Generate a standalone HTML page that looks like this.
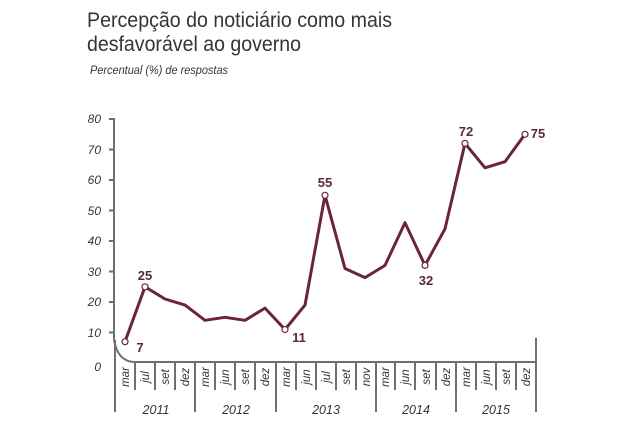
<!DOCTYPE html>
<html><head><meta charset="utf-8"><style>
html,body{margin:0;padding:0;background:#fff;}
svg{display:block;}
</style></head><body>
<svg width="644" height="434" viewBox="0 0 644 434" xmlns="http://www.w3.org/2000/svg" font-family="Liberation Sans, sans-serif">
<text x="87" y="27" font-size="21" fill="#3a3334" textLength="305" lengthAdjust="spacingAndGlyphs">Percepção do noticiário como mais</text>
<text x="87" y="51" font-size="21" fill="#3a3334" textLength="214" lengthAdjust="spacingAndGlyphs">desfavorável ao governo</text>
<text x="90" y="74" font-size="11.5" font-style="italic" fill="#3a3334" textLength="138" lengthAdjust="spacingAndGlyphs">Percentual (%) de respostas</text>
<g stroke="#6f6f6f" stroke-width="2" fill="none">
<path d="M114 118 V340 Q118 362 135 362 H536 V338"/>
<path d="M109 119 H114 M109 149.5 H114 M109 180 H114 M109 210.5 H114 M109 241 H114 M109 271.5 H114 M109 302 H114 M109 332.5 H114"/>
<path d="M115 340 V412 M195 362 V412 M276 362 V412 M376 362 V412 M456 362 V412 M536 362 V412"/>
<path d="M135 362 V390 M155 362 V390 M175 362 V390 M215 362 V390 M235 362 V390 M255 362 V390 M296 362 V390 M316 362 V390 M336 362 V390 M356 362 V390 M395 362 V390 M415 362 V390 M436 362 V390 M476 362 V390 M496 362 V390 M516 362 V390"/>
</g>
<g font-size="12" font-style="italic" fill="#3a3334" text-anchor="end">
<text x="101" y="123">80</text><text x="101" y="154">70</text><text x="101" y="184">60</text><text x="101" y="215">50</text><text x="101" y="245">40</text><text x="101" y="276">30</text><text x="101" y="306">20</text><text x="101" y="337">10</text><text x="101" y="371">0</text>
</g>
<g font-size="11.5" font-style="italic" fill="#3a3334" text-anchor="middle">
<g transform="translate(129,377) rotate(-90)"><text>mar</text></g>
<g transform="translate(149,377) rotate(-90)"><text>jul</text></g>
<g transform="translate(169,377) rotate(-90)"><text>set</text></g>
<g transform="translate(189,377) rotate(-90)"><text>dez</text></g>
<g transform="translate(209,377) rotate(-90)"><text>mar</text></g>
<g transform="translate(229,377) rotate(-90)"><text>jun</text></g>
<g transform="translate(249,377) rotate(-90)"><text>set</text></g>
<g transform="translate(269,377) rotate(-90)"><text>dez</text></g>
<g transform="translate(290,377) rotate(-90)"><text>mar</text></g>
<g transform="translate(310,377) rotate(-90)"><text>jun</text></g>
<g transform="translate(330,377) rotate(-90)"><text>jul</text></g>
<g transform="translate(350,377) rotate(-90)"><text>set</text></g>
<g transform="translate(370,377) rotate(-90)"><text>nov</text></g>
<g transform="translate(389,377) rotate(-90)"><text>mar</text></g>
<g transform="translate(409,377) rotate(-90)"><text>jun</text></g>
<g transform="translate(430,377) rotate(-90)"><text>set</text></g>
<g transform="translate(450,377) rotate(-90)"><text>dez</text></g>
<g transform="translate(470,377) rotate(-90)"><text>mar</text></g>
<g transform="translate(490,377) rotate(-90)"><text>jun</text></g>
<g transform="translate(510,377) rotate(-90)"><text>set</text></g>
<g transform="translate(530,377) rotate(-90)"><text>dez</text></g>
<text x="156" y="414" font-size="12.5">2011</text>
<text x="236" y="414" font-size="12.5">2012</text>
<text x="326" y="414" font-size="12.5">2013</text>
<text x="416" y="414" font-size="12.5">2014</text>
<text x="496" y="414" font-size="12.5">2015</text>
</g>
<polyline fill="none" stroke="#6b2340" stroke-width="3" stroke-linejoin="round" points="125,341.7 145,286.8 165,299 185,305.1 205,320.3 225,317.3 245,320.3 265,308.1 285,329.5 305,305.1 325,195.3 345,268.5 365,277.6 385,265.4 405,222.7 425,265.4 445,228.8 465,143.4 485,167.8 505,161.7 525,134.3"/>
<g fill="#fff" stroke="#6b2340" stroke-width="1.2">
<circle cx="125" cy="341.7" r="3"/><circle cx="145" cy="286.8" r="3"/><circle cx="285" cy="329.5" r="3"/><circle cx="325" cy="195.3" r="3"/><circle cx="425" cy="265.4" r="3"/><circle cx="465" cy="143.4" r="3"/><circle cx="525" cy="134.3" r="3"/>
</g>
<g font-size="13" font-weight="bold" fill="#5a2a3a" text-anchor="middle">
<text x="140" y="352">7</text><text x="145" y="280">25</text><text x="299" y="342">11</text><text x="325" y="187">55</text><text x="426" y="285">32</text><text x="466" y="136">72</text><text x="538" y="138">75</text>
</g>
</svg>
</body></html>
